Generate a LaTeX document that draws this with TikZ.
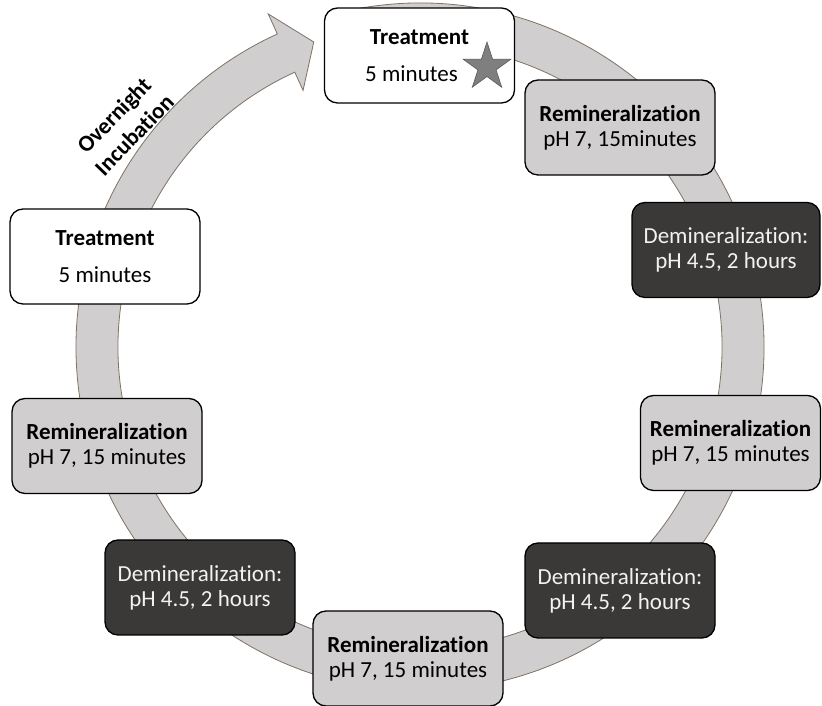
\documentclass[tikz,border=0pt]{standalone}
\usepackage{fontspec}
\setmainfont{Carlito}[Ligatures=NoCommon]
\usetikzlibrary{shapes.geometric}
\definecolor{RingGray}{HTML}{D0CECE}
\definecolor{RingLine}{HTML}{7F7263}
\definecolor{BoxGray}{HTML}{D0CECE}
\definecolor{DarkBox}{HTML}{3B3838}
\definecolor{StarGray}{HTML}{7F7F7F}

\begin{document}
\begin{tikzpicture}[
    x=1pt, y=1pt,
    stepbase/.style={draw=black, line width=1.3pt, rounded corners=13pt,
        align=center, minimum width=190pt, minimum height=95pt, inner sep=0pt,
        font=\fontsize{23}{25}\selectfont},
    treat/.style={stepbase, fill=white, font=\fontsize{23}{37}\selectfont},
    remin/.style={stepbase, fill=BoxGray},
    demin/.style={stepbase, fill=DarkBox, text=white!95!black},
    ring/.style={fill=RingGray, draw=RingLine, line width=0.8pt},
]
\useasboundingbox (0,0) rectangle (822,706);

% ring with arrow head
\begin{scope}[shift={(420,359)}]
\draw[ring] (100:344) arc[start angle=100, end angle=-245.5, radius=344]
    -- (-245.5:366) -- (-250.8:323) -- (-245.5:282) -- (-245.5:302)
    arc[start angle=-245.5, end angle=100, radius=302] -- cycle;
\end{scope}

% treatment
\node[treat] (treatA) at (419.5,650.5) {\textbf{Treatment}\\5 minutes\hspace*{16pt}};
\node[star, star points=5, star point ratio=2.618, minimum size=50pt,
      inner sep=0pt, fill=StarGray, draw=StarGray!70!black, line width=0.6pt]
    (star) at (487,639) {};

% cycle steps
\node[remin] (remA) at (620,578.5) {\textbf{Remineralization}\\pH 7, 15minutes};
\node[demin, minimum width=188pt] (demA) at (726,456) {Demineralization:\\pH 4.5, 2 hours};
\node[remin, minimum width=180pt] (remB) at (730.5,263) {\textbf{Remineralization}\\pH 7, 15 minutes};
\node[demin] (demB) at (620,115.5) {Demineralization:\\pH 4.5, 2 hours};
\node[remin] (remC) at (408,47.5) {\textbf{Remineralization}\\pH 7, 15 minutes};
\node[demin] (demC) at (200,118.5) {Demineralization:\\pH 4.5, 2 hours};
\node[remin] (remD) at (107,260) {\textbf{Remineralization}\\pH 7, 15 minutes};

% next treatment
\node[treat] (treatB) at (105,449.5) {\textbf{Treatment}\\5 minutes};

% overnight label
\node[rotate=46, align=center, font=\bfseries\fontsize{23}{28}\selectfont]
    (incub) at (124,581) {Overnight\\Incubation};

\end{tikzpicture}
\end{document}
